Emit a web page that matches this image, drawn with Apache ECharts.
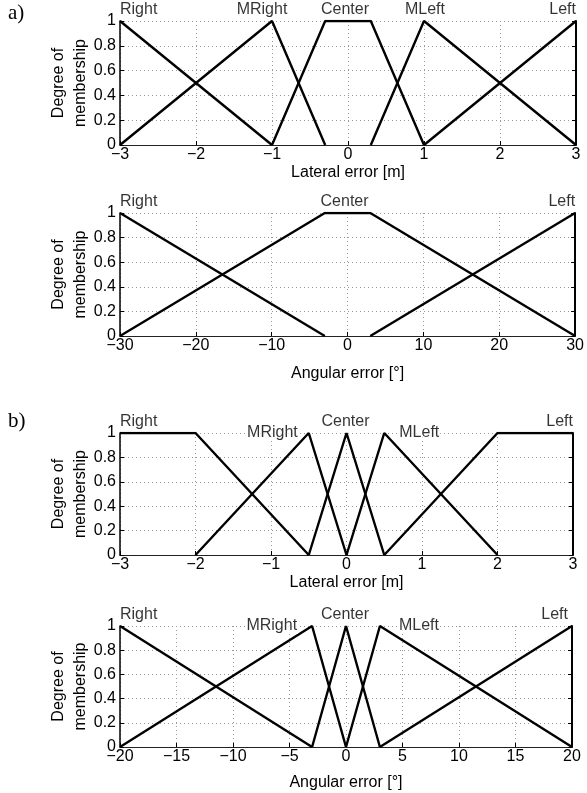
<!DOCTYPE html>
<html><head><meta charset="utf-8">
<script src="https://cdn.jsdelivr.net/npm/echarts@6/dist/echarts.min.js"></script>
<style>html,body{margin:0;padding:0;background:#fff}#c{width:587px;height:793px}</style>
</head><body><div id="c"></div>
<script>
// ---- Data ----
// Panel a) lateral error [m]
const aLat_Right  = [[-3,1],[-1,0]];
const aLat_MRight = [[-3,0],[-1,1],[-0.3,0]];
const aLat_Center = [[-1,0],[-0.3,1],[0.3,1],[1,0]];
const aLat_MLeft  = [[0.3,0],[1,1],[3,0]];
const aLat_Left   = [[1,0],[3,1]];
// Panel a) angular error [deg]
const aAng_Right  = [[-30,1],[-3,0]];
const aAng_Center = [[-30,0],[-3,1],[3,1],[30,0]];
const aAng_Left   = [[3,0],[30,1]];
// Panel b) lateral error [m]
const bLat_Right  = [[-3,1],[-2,1],[-0.5,0]];
const bLat_MRight = [[-2,0],[-0.5,1],[0,0]];
const bLat_Center = [[-0.5,0],[0,1],[0.5,0]];
const bLat_MLeft  = [[0,0],[0.5,1],[2,0]];
const bLat_Left   = [[0.5,0],[2,1],[3,1]];
// Panel b) angular error [deg]
const bAng_Right  = [[-20,1],[-3,0]];
const bAng_MRight = [[-20,0],[-3,1],[0,0]];
const bAng_Center = [[-3,0],[0,1],[3,0]];
const bAng_MLeft  = [[0,0],[3,1],[20,0]];
const bAng_Left   = [[3,0],[20,1]];

// label names and anchor x positions
const names5 = ['Right','MRight','Center','MLeft','Left'];
const names3 = ['Right','Center','Left'];
const aLatLabelX = [-3,-1,0,1,3];
const aAngLabelX = [-30,0,30];
const bLatLabelX = [-3,-0.5,0,0.5,3];
const bAngLabelX = [-20,-3,0,3,20];

// axis ranges / ticks
const xRanges = [[-3,3,1],[-30,30,10],[-3,3,1],[-20,20,5]];
const yTicks = [0,0.2,0.4,0.6,0.8,1];
const xNames = ['Lateral error [m]','Angular error [\u00b0]','Lateral error [m]','Angular error [\u00b0]'];
const yName = 'Degree of\nmembership';

// ---- Layout ----
const grids = [
  {left:120, top:21,  width:456, height:124},
  {left:120, top:213, width:456, height:123},
  {left:120, top:433, width:453, height:122},
  {left:120, top:626, width:452, height:121}
];
const xNameGaps = [20, 30, 20, 28];
const FONT = 'Liberation Sans';
const minus = v => String(v).replace('-', '\u2212');

const xAxis = [], yAxis = [], series = [];
grids.forEach((g,i)=>{
  xAxis.push({
    type:'value', gridIndex:i, min:xRanges[i][0], max:xRanges[i][1], interval:xRanges[i][2],
    name:xNames[i], nameLocation:'middle', nameGap:xNameGaps[i], nameMoveOverlap:false,
    nameTextStyle:{fontFamily:FONT, fontSize:16, color:'#000'},
    axisLine:{show:true, onZero:false, lineStyle:{color:'#222', width:1.2}},
    axisTick:{show:true, inside:true, length:4, lineStyle:{color:'#000'}},
    axisLabel:{fontFamily:FONT, fontSize:16, color:'#000', margin:2, formatter:minus},
    splitLine:{show:true, lineStyle:{color:'#999', type:[1,3], width:1}}
  });
  yAxis.push({
    type:'value', gridIndex:i, min:0, max:1, interval:0.2,
    name:yName, nameLocation:'middle', nameGap:28, nameRotate:90, nameMoveOverlap:false,
    nameTextStyle:{fontFamily:FONT, fontSize:16, color:'#000', lineHeight:22},
    axisLine:{show:true, onZero:false, lineStyle:{color:'#000', width:1.5}},
    axisTick:{show:true, inside:true, length:4, lineStyle:{color:'#000'}},
    axisLabel:{fontFamily:FONT, fontSize:16, color:'#000', margin:4,
      formatter:v=>String(Math.round(v*10)/10)},
    splitLine:{show:true, lineStyle:{color:'#999', type:[1,3], width:1}}
  });
  yAxis.push({
    type:'value', gridIndex:i, min:0, max:1, interval:0.2, position:'right',
    axisLine:{show:true, onZero:false, lineStyle:{color:'#000', width:2}},
    axisTick:{show:true, inside:true, length:4, lineStyle:{color:'#000'}},
    axisLabel:{show:false}, splitLine:{show:false}
  });
});

function addLine(i, data){
  series.push({type:'line', xAxisIndex:i, yAxisIndex:i*2, data:data, symbol:'none',
    lineStyle:{color:'#000', width:2.4}, silent:true, animation:false, z:3});
}
[aLat_Right,aLat_MRight,aLat_Center,aLat_MLeft,aLat_Left].forEach(d=>addLine(0,d));
[aAng_Right,aAng_Center,aAng_Left].forEach(d=>addLine(1,d));
[bLat_Right,bLat_MRight,bLat_Center,bLat_MLeft,bLat_Left].forEach(d=>addLine(2,d));
[bAng_Right,bAng_MRight,bAng_Center,bAng_MLeft,bAng_Left].forEach(d=>addLine(3,d));

function lab(name, align, offset){
  return {show:true, formatter:name, fontFamily:FONT, fontSize:16, color:'#000',
    position:'inside', align:align, verticalAlign:'middle', offset:offset};
}
function addLabels(i, names, xs, styles){
  series.push({type:'scatter', xAxisIndex:i, yAxisIndex:i*2, symbolSize:1, silent:true,
    animation:false, itemStyle:{color:'rgba(0,0,0,0)'}, z:5,
    data: names.map((n,k)=>({value:[xs[k],1], label:styles[k](n)}))});
}
const above = (al,dx)=> n=>lab(n, al, [dx,-11]);
const beside = (al,dx)=> n=>Object.assign(lab(n, al, [dx,0]), {backgroundColor:'#fff', padding:[0,1]});
addLabels(0, names5, aLatLabelX, [above('left',0), above('center',-10), above('center',-3), above('center',1), above('right',0)]);
addLabels(1, names3, aAngLabelX, [above('left',0), above('center',-3), above('right',0)]);
addLabels(2, names5, bLatLabelX, [above('left',0), beside('right',-10), above('center',-1), beside('left',14), above('right',0)]);
addLabels(3, names5, bAngLabelX, [above('left',0), beside('right',-14), above('center',-1), beside('left',18), above('right',-4)]);

const option = {
  animation:false,
  backgroundColor:'#fff',
  grid: grids,
  xAxis, yAxis, series,
  graphic:[
    {type:'text', left:8, top:3, style:{text:'a)', font:'21px "Liberation Serif"', fill:'#000'}},
    {type:'text', left:8, top:411, style:{text:'b)', font:'21px "Liberation Serif"', fill:'#000'}}
  ]
};
const chart = echarts.init(document.getElementById('c'), null, {renderer:'canvas'});
chart.setOption(option);
</script></body></html>
